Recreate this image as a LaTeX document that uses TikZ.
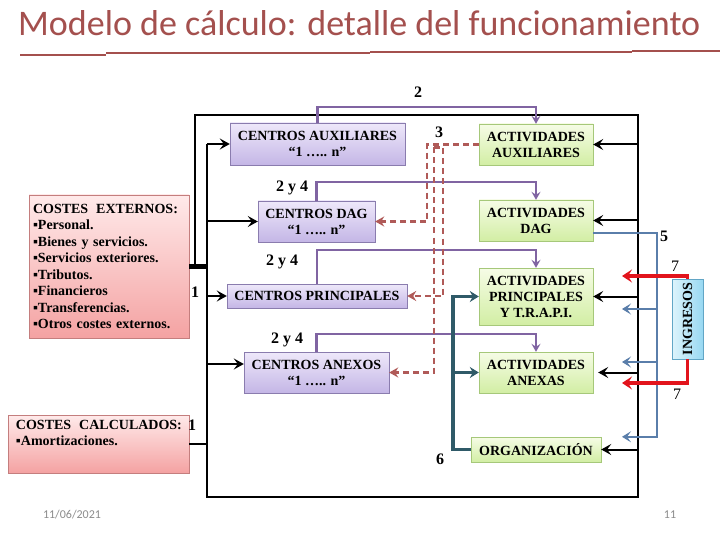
\documentclass[tikz,border=0pt]{standalone}
\usepackage{fontspec}
\setmainfont{Liberation Serif}
\newfontfamily\calibri{Carlito}
\usetikzlibrary{arrows.meta}

\definecolor{titlered}{HTML}{A4504E}
\definecolor{lilatop}{HTML}{EEE8FA}
\definecolor{lilabot}{HTML}{C4B6E6}
\definecolor{lilaedge}{HTML}{8A7CAE}
\definecolor{verdetop}{HTML}{F6FCE6}
\definecolor{verdebot}{HTML}{D2EEA4}
\definecolor{verdeedge}{HTML}{A6C87A}
\definecolor{rosatop}{HTML}{FFEAEA}
\definecolor{rosabot}{HTML}{F4A2A2}
\definecolor{rosaedge}{HTML}{C47E7E}
\definecolor{celestel}{HTML}{DDF4FC}
\definecolor{celester}{HTML}{98D8F2}
\definecolor{celesteedge}{HTML}{62A6C6}
\definecolor{morado}{HTML}{8064A2}
\definecolor{ladrillo}{HTML}{B05A58}
\definecolor{acero}{HTML}{5A7EAA}
\definecolor{rojo}{HTML}{E2141C}
\definecolor{petroleo}{HTML}{2F5A68}
\definecolor{gris}{HTML}{8C8C8C}

\newcommand\boxfont{\bfseries\fontsize{14}{16}\selectfont}
\newcommand\numfont{\bfseries\fontsize{16}{16}\selectfont}

\begin{document}
\begin{tikzpicture}[x=1pt, y=-1pt,
    centro/.style={draw=lilaedge, top color=lilatop, bottom color=lilabot, inner sep=2pt, align=center, font=\boxfont},
    actividad/.style={draw=verdeedge, top color=verdetop, bottom color=verdebot, inner sep=2pt, align=center, font=\boxfont},
    coste/.style={draw=rosaedge, top color=rosatop, bottom color=rosabot, inner sep=0pt},
    num/.style={font=\numfont, inner sep=0pt},
    flow/.style={draw, line width=2pt, -{Stealth[length=10pt,width=11pt,inset=4pt]}},
    bus/.style={draw, line width=2pt},
    reparto/.style={draw=morado, line width=2.5pt, -{Stealth[length=8pt,width=9pt,inset=3pt]}},
    prest/.style={draw=ladrillo, line width=2.5pt, dash pattern=on 6pt off 4pt, -{Stealth[length=9pt,width=10pt,inset=3pt]}},
    ingr/.style={draw=acero, line width=2pt, -{Stealth[length=9pt,width=11pt,inset=4pt]}},
    venta/.style={draw=rojo, line width=3.5pt, -{Stealth[length=10pt,width=13pt,inset=4pt]}},
    organ/.style={draw=petroleo, line width=3.5pt, -{Stealth[length=9pt,width=11pt,inset=3pt]}}
]
\useasboundingbox[fill=white] (0,0) rectangle (720,540);

% Title
\node[anchor=base west, inner sep=0pt, text=titlered, font=\calibri\fontsize{36}{36}\selectfont] (title) at (18,36) {Modelo de cálculo: detalle del funcionamiento};
\draw[titlered, line width=2.5pt] (20,55) -- (106,55);
\draw[titlered, line width=2.5pt] (106,53) -- (370,53);
\draw[titlered, line width=2.5pt] (370,52) -- (632,52);
\draw[titlered, line width=2.5pt] (632,51) -- (720,51);

% Centros
\node[centro, minimum width=175pt, minimum height=42pt] (ca) at (317.5,144) {CENTROS AUXILIARES\\“1 ….. n”};
\node[centro, minimum width=117pt, minimum height=41pt] (cd) at (316.5,221.5) {CENTROS DAG\\“1 ….. n”};
\node[centro, minimum width=180pt, minimum height=24pt] (cp) at (317,296) {CENTROS PRINCIPALES};
\node[centro, minimum width=145pt, minimum height=41pt] (cx) at (316.5,372.5) {CENTROS ANEXOS\\“1 ….. n”};

% Actividades
\node[actividad, minimum width=114pt, minimum height=41pt] (aa) at (536,144.5) {ACTIVIDADES\\AUXILIARES};
\node[actividad, minimum width=114pt, minimum height=41pt] (ad) at (536,220.5) {ACTIVIDADES\\DAG};
\node[actividad, minimum width=114pt, minimum height=57pt] (ap) at (536,296.5) {ACTIVIDADES\\PRINCIPALES\\Y T.R.A.P.I.};
\node[actividad, minimum width=114pt, minimum height=41pt] (ax) at (536,372.5) {ACTIVIDADES\\ANEXAS};
\node[actividad, minimum width=130pt, minimum height=25pt] (org) at (536,449.5) {ORGANIZACIÓN};

% Ingresos
\node[draw=celesteedge, left color=celestel, right color=celester, minimum width=31pt, minimum height=80pt, inner sep=0pt, font=\boxfont] (ing) at (687.5,319) {\rotatebox{90}{INGRESOS}};

% Costes
\node[coste, minimum width=160pt, minimum height=143pt, text width=152pt, align=left, font=\bfseries\fontsize{14}{16.5}\selectfont] (cext) at (109,266.5)
  {COSTES\hspace{8pt}EXTERNOS:\\▪Personal.\\▪Bienes y servicios.\\▪Servicios exteriores.\\▪Tributos.\\▪Financieros\\▪Transferencias.\\▪Otros costes externos.};
\node[coste, minimum width=181pt, minimum height=58pt] (ccal) at (98.5,444) {};
\node[anchor=north west, inner sep=0pt, align=left, font=\bfseries\fontsize{14}{16}\selectfont] (ccaltxt) at ([xshift=8pt,yshift=-5pt]ccal.north west)
  {COSTES\hspace{8pt}CALCULADOS:\\▪Amortizaciones.};

% Bus
\coordinate (lt) at (195,115);
\coordinate (rt) at (638,115);
\coordinate (rb) at (638,497);
\coordinate (lb) at (207,497);
\draw[line width=5pt] (cext.east) -- (cext.east -| lb);
\draw[bus] (cext.east -| lt) -- (lt) -- (rt) -- (rb) -- (lb) -- (lb |- ca.west);
\draw[bus] (ccal.east) -- (ccal.east -| lb);
\draw[flow] (lb |- ca.west) -- (ca.west);
\draw[flow] (cd.west -| lb) -- (cd.west);
\draw[flow] (cp.west -| lb) -- (cp.west);
\draw[flow] ([yshift=8.5pt]cx.west -| lb) -- ([yshift=8.5pt]cx.west);
\draw[flow] (aa.east -| rt) -- (aa.east);
\draw[flow] (ad.east -| rt) -- (ad.east);
\draw[flow] (ap.east -| rt) -- (ap.east);
\draw[flow, shorten >=5pt] (ax.east -| rt) -- (ax.east);
\draw[flow] (org.east -| rt) -- (org.east);

% Reparto primario
\draw[reparto] (ca.north) |- ([yshift=17pt]aa.north) -- (aa.north);
\draw[reparto] (cd.north) |- ([yshift=18pt]ad.north) -- (ad.north);
\draw[reparto] (cp.north) |- ([yshift=18pt]ap.north) -- (ap.north);
\draw[reparto] (cx.north) |- ([yshift=18pt]ax.north) -- (ax.north);

% Prestaciones auxiliares
\coordinate (r1) at (427,0);
\coordinate (r2) at (434,0);
\coordinate (r3) at (443,0);
\draw[prest] (aa.west) -| (r1 |- cd.east) -- (cd.east);
\draw[prest] ([yshift=-3pt]aa.west -| r2) |- (cx.east);
\draw[prest] ([yshift=-3pt]aa.west -| r2) -| (r3 |- cp.east) -- (cp.east);

% Imputaciones DAG
\coordinate (b5) at (657,0);
\coordinate (bt) at (622,0);
\draw[ingr] ([yshift=-12.5pt]ad.east) -| (b5 |- org.north) -- (bt |- org.north);
\draw[ingr] ([yshift=-12.5pt]ap.east -| b5) -- ([yshift=-12.5pt]ap.east -| bt);
\draw[ingr] ([yshift=10.5pt]ax.east -| b5) -- ([yshift=10.5pt]ax.east -| bt);

% Ingresos
\coordinate (v1) at (622,276);
\coordinate (v2) at (622,383);
\draw[venta] (ing.north) |- (v1);
\draw[venta] (ing.south) |- (v2);

% Organizacion
\coordinate (t6) at (453,0);
\draw[organ] (org.west) -| (t6 |- ap.west) -- (ap.west);
\draw[organ] (t6 |- ax.west) -- (ax.west);

% Labels
\node[num] (n2) at (418,92) {2};
\node[num] (n3) at (439,132) {3};
\node[num] (n24a) at (292,188) {2 y 4};
\node[num] (n24b) at (282,262) {2 y 4};
\node[num] (n24c) at (287,340) {2 y 4};
\node[num] (n1a) at (195,292) {1};
\node[num] (n1b) at (192,425) {1};
\node[num] (n5) at (664,236) {5};
\node[num] (n6) at (440,459) {6};
\node[inner sep=0pt, font=\fontsize{16}{16}\selectfont] (n7a) at (675,266) {7};
\node[inner sep=0pt, font=\fontsize{16}{16}\selectfont] (n7b) at (677,394) {7};

% Footer
\node[text=gris, font=\calibri\fontsize{12}{12}\selectfont] (fecha) at (72,515) {11/06/2021};
\node[text=gris, font=\calibri\fontsize{12}{12}\selectfont] (pag) at (670,515) {11};
\end{tikzpicture}
\end{document}
